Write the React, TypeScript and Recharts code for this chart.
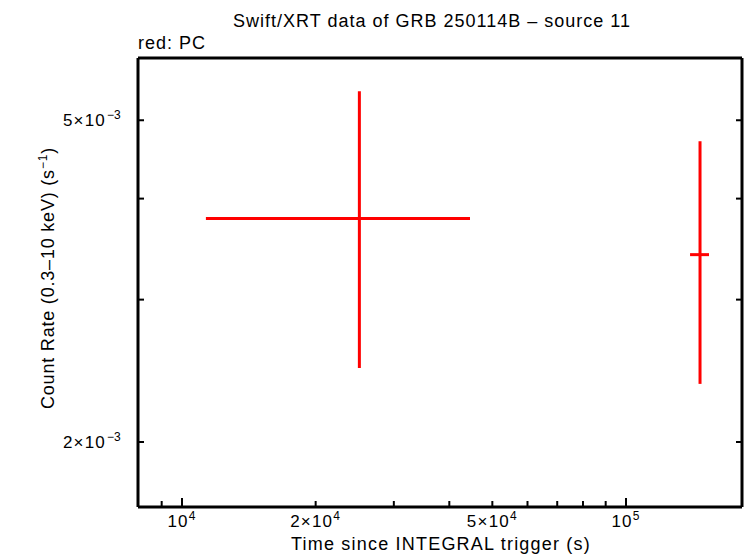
import { ScatterChart, Scatter, XAxis, YAxis, ErrorBar } from 'recharts';

// light curve points (PC mode)
const times = [25090, 146800];
const timeErrLow = [13770, 7400];
const timeErrHigh = [19440, 7000];
const rates = [3.78e-3, 3.41e-3];
const rateErrLow = [1.31e-3, 1.05e-3];
const rateErrHigh = [1.65e-3, 1.3e-3];

const xTicks = [9000, 10000, 20000, 30000, 40000, 50000, 60000, 70000, 80000, 90000, 100000];
const xMajor = [10000, 100000];
const xLabels: Record<number, [string, string]> = {
  10000: ['10', '4'],
  20000: ['2×10', '4'],
  50000: ['5×10', '4'],
  100000: ['10', '5'],
};
const yTicks = [0.002, 0.003, 0.004, 0.005];
const yLabels: Record<number, [string, string]> = {
  0.002: ['2×10', '−3'],
  0.005: ['5×10', '−3'],
};

const xDomain = [7960, 182500];
const yDomain = [0.001662, 0.00597];

const points = times.map((t, i) => ({
  time: t,
  rate: rates[i],
  timeErr: [timeErrLow[i], timeErrHigh[i]],
  rateErr: [rateErrLow[i], rateErrHigh[i]],
}));

const FONT = 'Liberation Sans, Arial, sans-serif';

function XTick(props: any) {
  const { x, y, payload, side } = props;
  const v = payload.value;
  const len = xMajor.includes(v) ? 9 : 6;
  const dir = side === 'top' ? 1 : -1;
  const lab = xLabels[v];
  return (
    <g>
      <line x1={x} y1={y} x2={x} y2={y + dir * len} stroke="#000" strokeWidth={2} />
      {side !== 'top' && lab && (
        <text x={x} y={y + 20} textAnchor="middle" fontFamily={FONT} fontSize={17} letterSpacing={1.2} fill="#000">
          {lab[0]}
          <tspan dy={-7} fontSize={12}>{lab[1]}</tspan>
        </text>
      )}
    </g>
  );
}

function YTick(props: any) {
  const { x, y, payload, side } = props;
  const v = payload.value;
  const dir = side === 'right' ? -1 : 1;
  const lab = yLabels[v];
  return (
    <g>
      <line x1={x} y1={y} x2={x + dir * 6} y2={y} stroke="#000" strokeWidth={2} />
      {side !== 'right' && lab && (
        <text x={x - 32} y={y + 6} textAnchor="end" fontFamily={FONT} fontSize={17} letterSpacing={1.2} fill="#000">
          {lab[0]}
        </text>
      )}
      {side !== 'right' && lab && (
        <text x={x - 31} y={y - 1} fontFamily={FONT} fontSize={12} fill="#000">
          {lab[1]}
        </text>
      )}
    </g>
  );
}

export default function App() {
  return (
    <div style={{ position: 'absolute', left: 0, top: 0, width: 746, height: 558, background: '#fff' }}>
      <ScatterChart width={746} height={558} margin={{ top: 0, right: 0, bottom: 0, left: 0 }}>
        <XAxis
          xAxisId="main"
          dataKey="time"
          type="number"
          scale="log"
          domain={xDomain}
          allowDataOverflow
          ticks={xTicks}
          interval={0}
          height={51}
          tickSize={0}
          tickMargin={0}
          tickLine={false}
          axisLine={{ stroke: '#000', strokeWidth: 3 }}
          tick={(p: any) => <XTick {...p} side="bottom" />}
        />
        <XAxis
          xAxisId="top"
          orientation="top"
          type="number"
          scale="log"
          domain={xDomain}
          allowDataOverflow
          ticks={xTicks}
          interval={0}
          height={58}
          tickSize={0}
          tickMargin={0}
          tickLine={false}
          axisLine={{ stroke: '#000', strokeWidth: 3 }}
          tick={(p: any) => <XTick {...p} side="top" />}
        />
        <YAxis
          yAxisId="main"
          dataKey="rate"
          type="number"
          scale="log"
          domain={yDomain}
          allowDataOverflow
          ticks={yTicks}
          interval={0}
          width={138}
          tickSize={0}
          tickMargin={0}
          tickLine={false}
          axisLine={{ stroke: '#000', strokeWidth: 3 }}
          tick={(p: any) => <YTick {...p} side="left" />}
        />
        <YAxis
          yAxisId="right"
          orientation="right"
          type="number"
          scale="log"
          domain={yDomain}
          allowDataOverflow
          ticks={yTicks}
          interval={0}
          width={4}
          tickSize={0}
          tickMargin={0}
          tickLine={false}
          axisLine={{ stroke: '#000', strokeWidth: 3 }}
          tick={(p: any) => <YTick {...p} side="right" />}
        />
        <Scatter
          data={points}
          dataKey="rate"
          xAxisId="main"
          yAxisId="main"
          isAnimationActive={false}
          shape={() => <g />}
        >
          <ErrorBar dataKey="timeErr" direction="x" width={0} stroke="#ff0000" strokeWidth={3} isAnimationActive={false} />
          <ErrorBar dataKey="rateErr" direction="y" width={0} stroke="#ff0000" strokeWidth={3} isAnimationActive={false} />
        </Scatter>
      </ScatterChart>
      <svg width={746} height={558} style={{ position: 'absolute', left: 0, top: 0, pointerEvents: 'none' }}>
        <text x={432} y={27} textAnchor="middle" fontFamily={FONT} fontSize={18} letterSpacing={1} fill="#000">
          Swift/XRT data of GRB 250114B – source 11
        </text>
        <text x={138} y={49} fontFamily={FONT} fontSize={18} letterSpacing={1} fill="#000">
          red: PC
        </text>
        <text x={441} y={550} textAnchor="middle" fontFamily={FONT} fontSize={18} letterSpacing={1.2} fill="#000">
          Time since INTEGRAL trigger (s)
        </text>
        <text
          x={0}
          y={0}
          transform="translate(54 278) rotate(-90)"
          textAnchor="middle"
          fontFamily={FONT}
          fontSize={18}
          letterSpacing={0.8}
          fill="#000"
        >
          Count Rate (0.3–10 keV) (s
          <tspan dy={-7} fontSize={12}>−1</tspan>
          <tspan dy={7}>)</tspan>
        </text>
      </svg>
    </div>
  );
}
